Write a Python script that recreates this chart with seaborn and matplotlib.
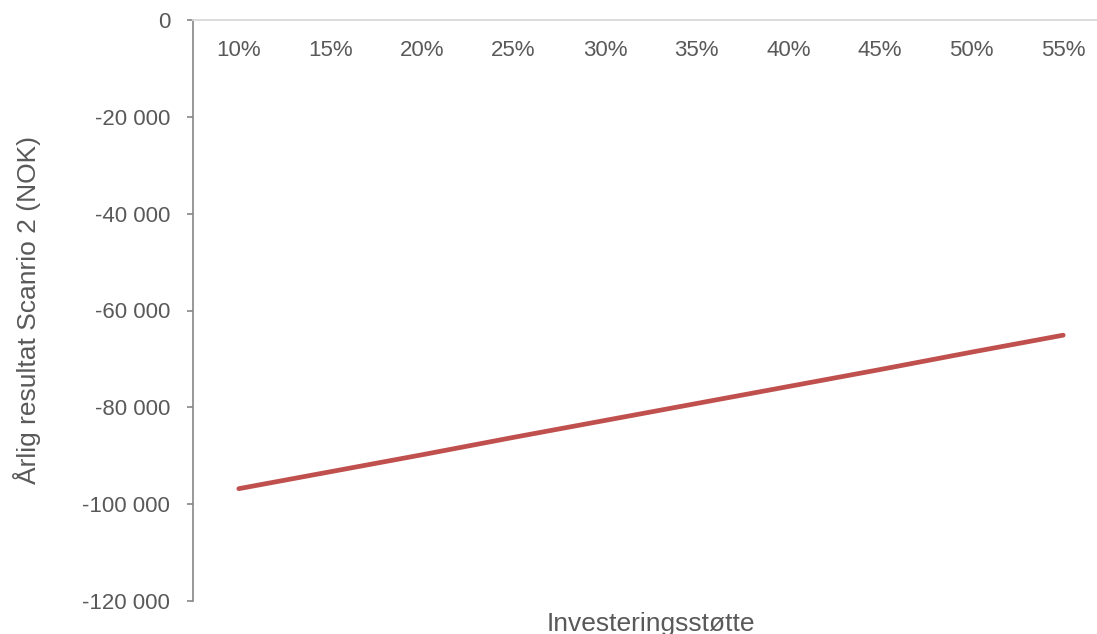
import matplotlib
matplotlib.use("Agg")
import matplotlib.pyplot as plt
from matplotlib.ticker import FuncFormatter, MultipleLocator
import pandas as pd
import seaborn as sns

# Investment-support share and the resulting yearly result (NOK)
support_levels = ["10%", "15%", "20%", "25%", "30%", "35%", "40%", "45%", "50%", "55%"]
annual_result = [-96800, -93300, -89800, -86200, -82700, -79200, -75700, -72200, -68600, -65100]

x_label = "Investeringsstøtte"
y_label = "Årlig resultat Scanrio 2 (NOK)"

df = pd.DataFrame({"support": support_levels, "result": annual_result})

sns.set_theme(style="white")
plt.rcParams["font.family"] = ["Liberation Sans", "DejaVu Sans"]

text_color = "#595959"
tick_size = 16
title_size = 19

fig = plt.figure(figsize=(10.97, 6.34), dpi=100)
ax = fig.add_axes([193 / 1097, 1 - 601 / 634, (1109 - 193) / 1097, (601 - 20) / 634])

sns.lineplot(data=df, x="support", y="result", ax=ax, color="#C0504D",
             linewidth=3.4, solid_capstyle="round", sort=False)

ax.set_xlim(-0.5, len(support_levels) - 0.5)
ax.set_ylim(-120000, 0)
ax.yaxis.set_major_locator(MultipleLocator(20000))
ax.yaxis.set_major_formatter(FuncFormatter(lambda v, _: f"{v:,.0f}".replace(",", " ")))

# Category axis sits on the zero line at the top, labels just beneath it
for side in ("right", "bottom"):
    ax.spines[side].set_visible(False)
ax.spines["top"].set_color("#d9d9d9")
ax.spines["top"].set_linewidth(1.3)
ax.spines["left"].set_color("#868686")
ax.spines["left"].set_linewidth(1.2)

ax.xaxis.set_ticks_position("top")
ax.tick_params(axis="x", which="both", length=0, top=True, bottom=False,
               labeltop=True, labelbottom=False, pad=-29.5,
               labelsize=tick_size, labelcolor=text_color)
ax.tick_params(axis="y", left=True, length=4, width=1.2, color="#868686",
               direction="out", pad=12.5, labelsize=tick_size, labelcolor=text_color)

ax.xaxis.set_label_position("bottom")
ax.set_xlabel(x_label, fontsize=title_size, color=text_color, labelpad=8)
ax.set_ylabel(y_label, fontsize=title_size, color=text_color, labelpad=30)
ax.grid(False)

fig.savefig("out.png", dpi=100)
